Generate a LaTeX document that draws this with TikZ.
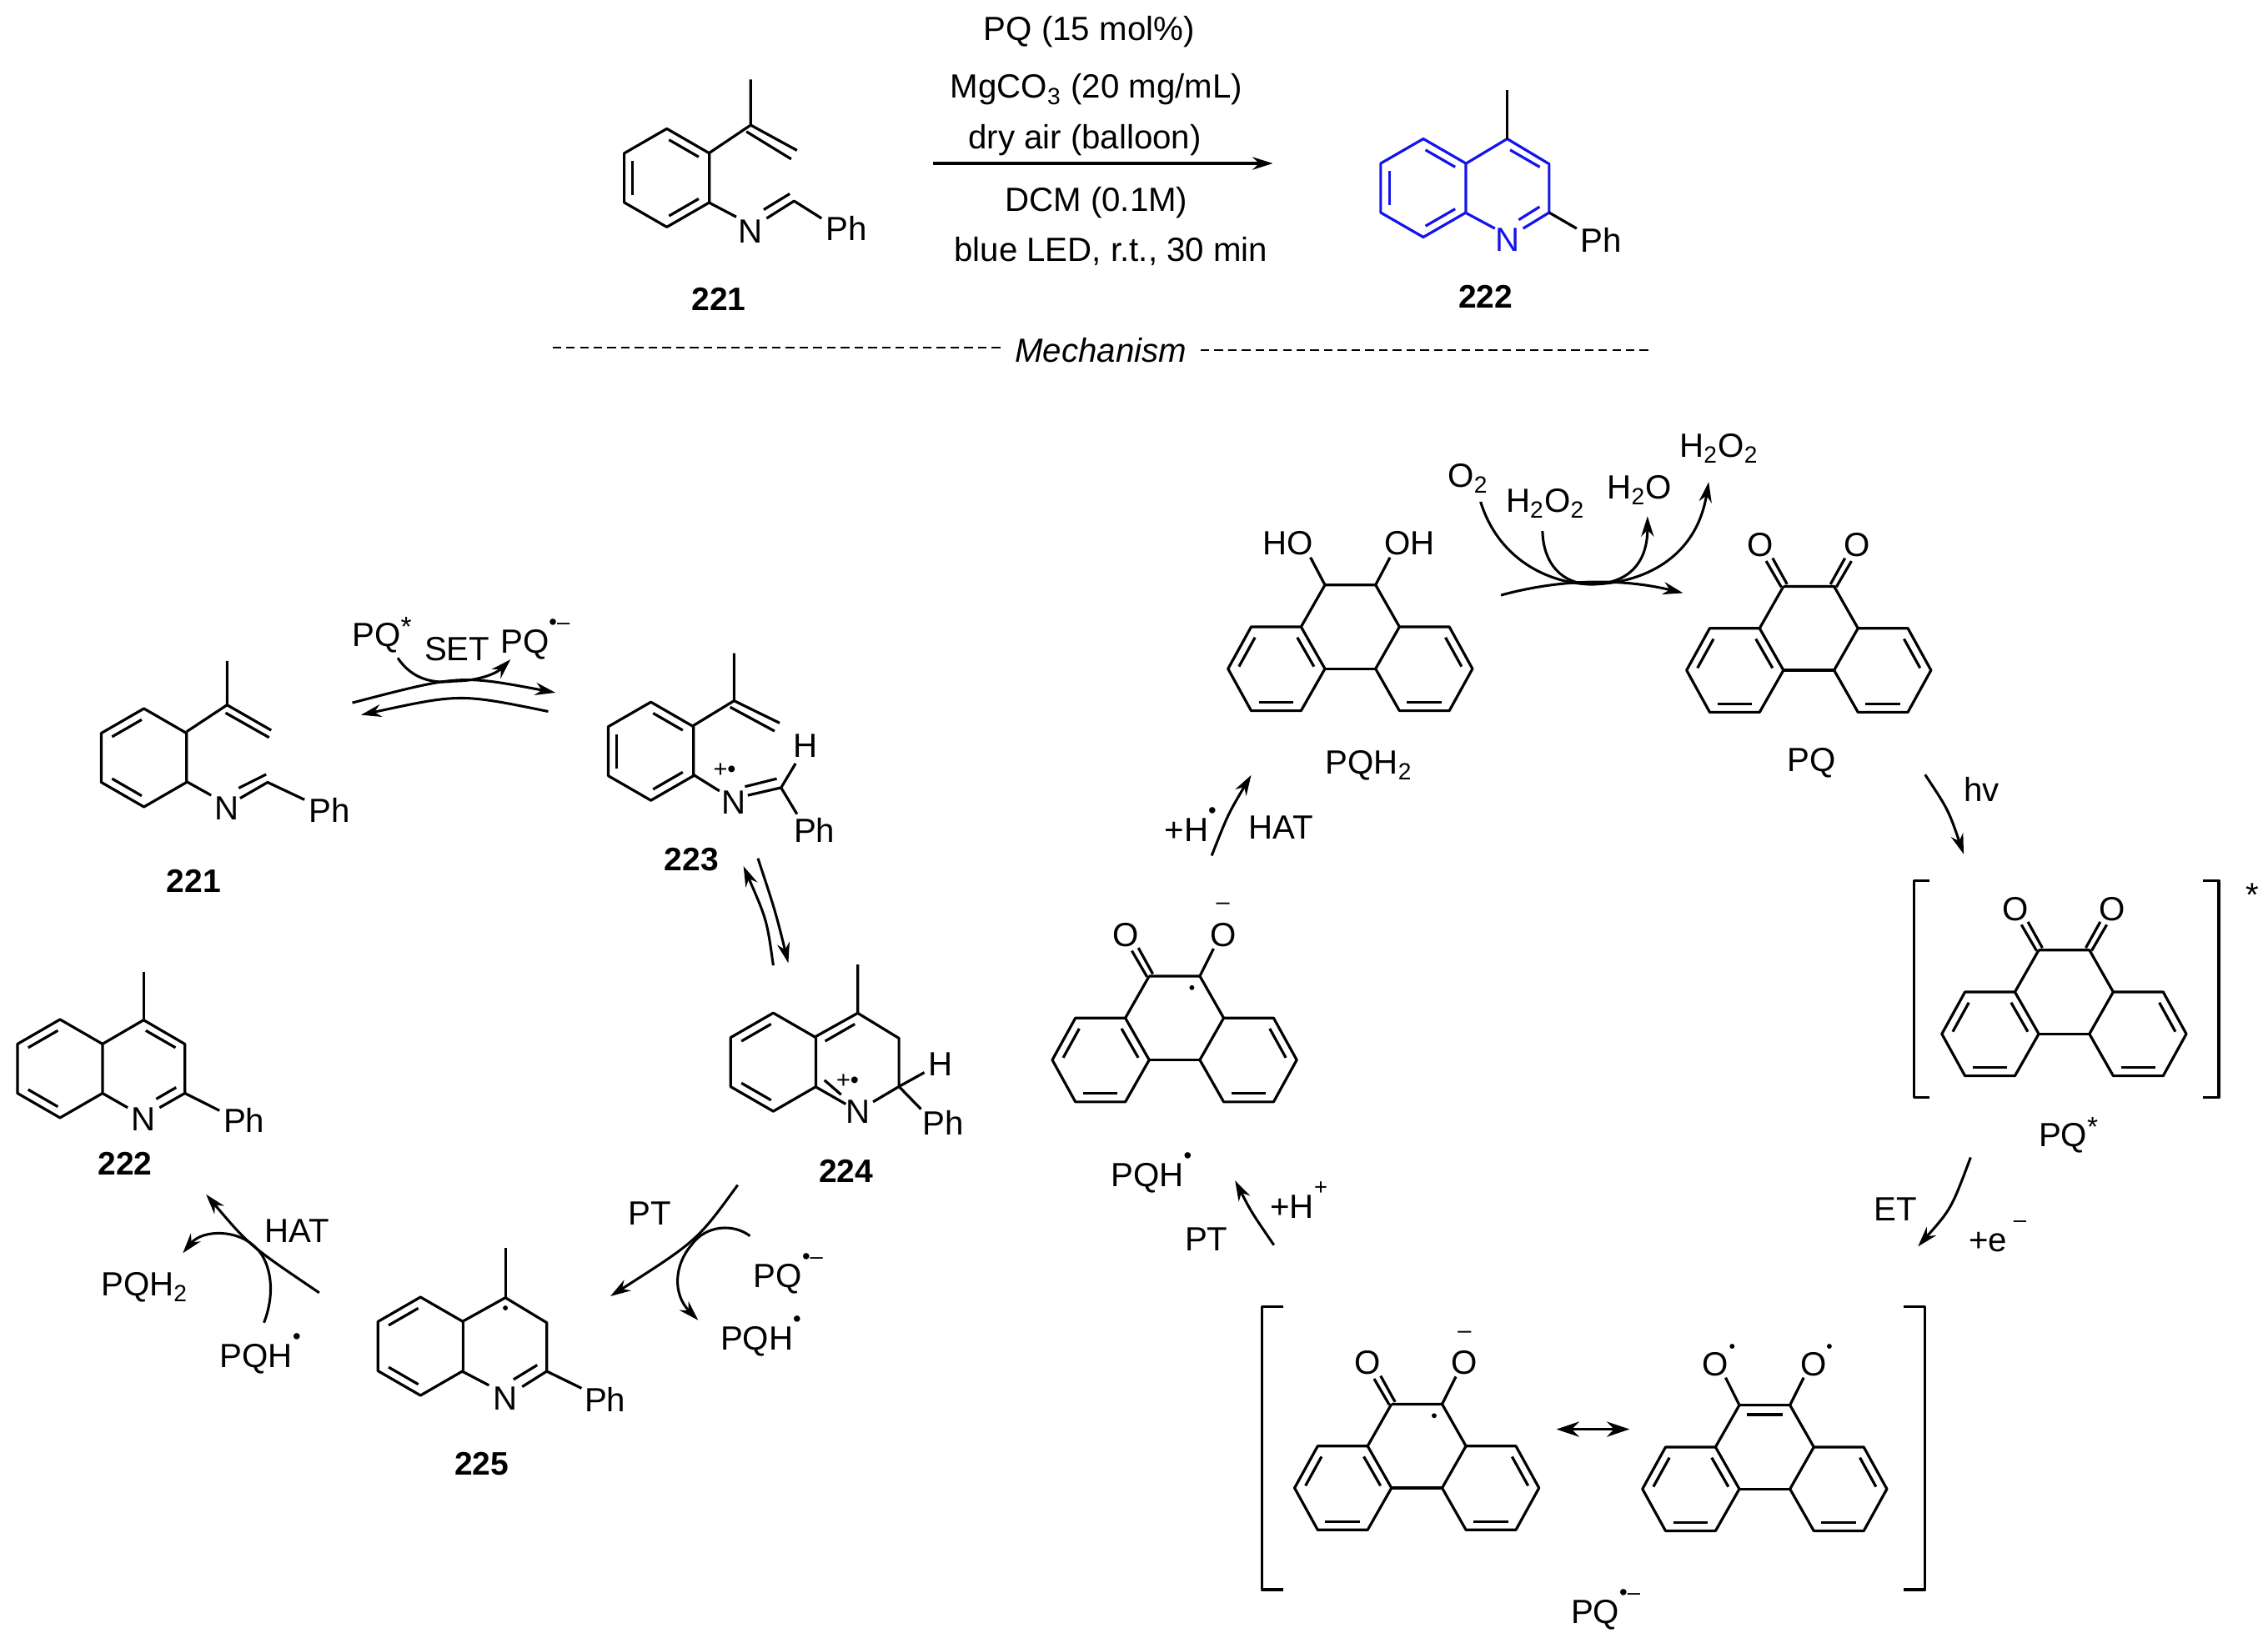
\documentclass[tikz,border=0pt]{standalone}
\usepackage{fontspec}
\setmainfont{Liberation Sans}
\usepackage{tikz}
\usetikzlibrary{calc,arrows.meta}
\definecolor{quinblue}{RGB}{20,20,235}

\tikzset{
  bond/.style={line width=1.05pt, line join=round},
  innerb/.style={bond, shorten >=1pt, shorten <=1pt},
  rxn/.style={line width=1pt, -{Stealth[length=8pt,width=5pt]}},
  every node/.style={inner sep=0pt, font=\fontsize{13.2}{15}\selectfont},
  comp/.style={font=\fontsize{12.8}{15}\selectfont\bfseries},
  small/.style={font=\fontsize{9.5}{10}\selectfont},
}

% raised radical dot or charge
\newcommand{\upmark}[1]{\raisebox{.7em}{\fontsize{9}{9}\selectfont #1}}
% raised star
\newcommand{\upstar}{\raisebox{.3em}{\fontsize{11}{11}\selectfont *}}
% inner line of a double bond in a ring
\newcommand{\innerbond}[2]{\draw[innerb] ($(#1)+(#2:27.2)$) -- ($(#1)+(#2+60:27.2)$);}
% six-membered ring, second argument lists its double bonds
\newcommand{\hexring}[2]{
  \draw[bond] ($(#1)+(30:34)$) -- ($(#1)+(90:34)$) -- ($(#1)+(150:34)$) -- ($(#1)+(210:34)$)
    -- ($(#1)+(270:34)$) -- ($(#1)+(330:34)$) -- cycle;
  \foreach \a in {#2} {\innerbond{#1}{\a}}
}
% phenanthrene frame, origin at the middle of its lower inner bond
\newcommand{\pqcore}{
  \draw[bond] (-17.5,-58) -- (17.5,-58) -- (34,-29) -- (68.5,-29) -- (84.5,0) -- (68.5,29) -- (34,29) -- (17.5,0) -- (34,-29);
  \draw[bond] (-17.5,-58) -- (-34,-29) -- (-68.5,-29) -- (-84.5,0) -- (-68.5,29) -- (-34,29) -- (-17.5,0) -- (-34,-29);
  \draw[bond] (-17.5,0) -- (17.5,0);
  \draw[innerb] (-65,-23.2) -- (-77.8,0);
  \draw[innerb] (-37.5,-23.2) -- (-24.2,0);
  \draw[innerb] (-65,23.2) -- (-37.5,23.2);
  \draw[innerb] (65,-23.2) -- (77.8,0);
  \draw[innerb] (37.5,23.2) -- (65,23.2);
}
% C=O on the frame, argument is +1 or -1 for the side
\newcommand{\pqcarbonyl}[1]{
  \draw[bond] ({#1*19},-57.5) -- ({#1*29.5},-75.5);
  \draw[bond] ({#1*15},-59.5) -- ({#1*25},-77.5);
}

\begin{document}
\begin{tikzpicture}[x=0.02cm,y=-0.02cm]
  \useasboundingbox (0,0) rectangle (1568,1136);

  % Conditions
  \node (cond1) at (753,22) {PQ (15 mol\%)};
  \node (cond2) at (758,62) {MgCO\textsubscript{3} (20 mg/mL)};
  \node (cond3) at (750,97) {dry air (balloon)};
  \node (cond4) at (758,140) {DCM (0.1M)};
  \node (cond5) at (768,174) {blue LED, r.t., 30 min};
  \coordinate (mainl) at (645,113);
  \coordinate (mainr) at (880,113);
  \draw[rxn, line width=1.25pt] (mainl) -- (mainr);

  % Substrate 221
  \hexring{461,123}{150,270,30}
  \draw[bond] (490,106) -- (519,86.5) -- (519,55);
  \draw[bond] (519,86.5) -- (551,104);
  \draw[bond] (516,91) -- (547,110);
  \draw[bond] (490,140) -- (509,150);
  \draw[bond] (530,151) -- (549,139) -- (568,151);
  \draw[bond] (528,145) -- (546,134);
  \node (ntop) at (519,160) {N};
  \node (phtop) at (585,158) {Ph};
  \node[comp] (lab221a) at (497,207) {221};

  % Product 222
  \begin{scope}[quinblue]
    \hexring{984,130}{150,270,30}
    \draw[bond] (1013,113.4) -- (1042,96) -- (1071,113.4) -- (1071,147) -- (1053,158);
    \draw[bond] (1013,147) -- (1033.5,158);
    \innerbond{1042.5,130}{270}
    \draw[bond] (1064.4,143) -- (1050,152);
    \node (nprod) at (1042,166) {N};
  \end{scope}
  \draw[bond] (1042,96) -- (1042,62);
  \draw[bond] (1071,147) -- (1090,158);
  \node (phprod) at (1107,166) {Ph};
  \node[comp] (lab222a) at (1027,205) {222};

  % Divider
  \node (mech) at (761,242) {\itshape Mechanism};
  \coordinate (dashla) at (382,240.5);
  \coordinate (dashlb) at (693,240.5);
  \coordinate (dashra) at (830,242);
  \coordinate (dashrb) at (1140,242);
  \draw[line width=0.7pt, dash pattern=on 3.4pt off 2pt] (dashla) -- (dashlb);
  \draw[line width=0.7pt, dash pattern=on 3.4pt off 2pt] (dashra) -- (dashrb);

  % 221 in the cycle
  \hexring{99.5,524}{210,90}
  \draw[bond] (129,506) -- (157,487.5) -- (157,457);
  \draw[bond] (157,487.5) -- (187.5,505);
  \draw[bond] (156,493) -- (186,510);
  \draw[bond] (129,540.5) -- (146,550);
  \draw[bond] (166,552) -- (185,541) -- (210.5,553);
  \draw[bond] (165,545) -- (184,535.5);
  \node (ncyc) at (157,559) {N};
  \node (phcyc) at (228,560) {Ph};
  \node[comp] (lab221b) at (134,609) {221};

  % 223
  \hexring{450,519.5}{150,270,30}
  \draw[bond] (479,502) -- (507.5,484.6) -- (507.5,451.7);
  \draw[bond] (507.5,484.6) -- (539,500);
  \draw[bond] (504.8,489) -- (535.5,505.6);
  \draw[bond] (479,535.5) -- (497.4,547);
  \draw[bond] (517,550) -- (540,544.7) -- (550,528);
  \draw[bond] (515,544) -- (537,538.5);
  \draw[bond] (540,544.7) -- (551,563);
  \node (n223) at (507.5,555) {N};
  \node[small] (plus223) at (501,533) {+•};
  \node (h223) at (557,516) {H};
  \node (ph223) at (563,574) {Ph};
  \node[comp] (lab223) at (478,594.5) {223};

  % 224
  \hexring{534.6,734.5}{210,90}
  \draw[bond] (563.6,717) -- (593,700.6) -- (593,667);
  \draw[bond] (593,700.6) -- (621.5,718) -- (621.5,751.4) -- (603.6,762);
  \innerbond{592.5,734.5}{210}
  \draw[bond] (563.6,751.4) -- (584.7,763.5);
  \draw[bond] (570,747) -- (581.5,757);
  \draw[bond] (621.5,751.4) -- (639,741.7);
  \draw[bond] (621.5,751.4) -- (636.7,767);
  \node (n224) at (593,769) {N};
  \node[small] (plus224) at (586,748) {+•};
  \node (h224) at (650.5,736) {H};
  \node (ph224) at (652,776.5) {Ph};
  \node[comp] (lab224) at (585,810) {224};

  % 222 in the cycle
  \hexring{41.5,739}{210,90}
  \draw[bond] (70.8,722) -- (99.3,705.4) -- (127.8,722) -- (127.8,756) -- (110.3,766);
  \draw[bond] (99.3,705.4) -- (99.3,672);
  \innerbond{99.3,739}{270}
  \draw[bond] (70.8,756) -- (88.3,766);
  \draw[bond] (121.8,752) -- (108,760);
  \draw[bond] (127.8,756) -- (151.7,768);
  \node (n222) at (99.3,774) {N};
  \node (ph222) at (168.7,775) {Ph};
  \node[comp] (lab222b) at (86.4,804.5) {222};

  % 225
  \hexring{290.7,931}{210,90}
  \draw[bond] (319.5,914) -- (349.4,897.4) -- (378,914.7) -- (378,948.3) -- (361,959);
  \draw[bond] (349.4,897.4) -- (349.4,863);
  \draw[bond] (319.5,948.3) -- (338,958);
  \draw[bond] (371.4,944) -- (355,954);
  \draw[bond] (378,948.3) -- (402,960);
  \fill (349.4,904.5) circle[radius=1.7];
  \node (n225) at (349.4,967) {N};
  \node (ph225) at (418.3,968) {Ph};
  \node[comp] (lab225) at (333,1012.5) {225};

  % SET step
  \coordinate (setfa) at (243.6,486);
  \coordinate (setfb) at (384,479);
  \coordinate (setba) at (379,492);
  \coordinate (setbb) at (249.6,494.4);
  \coordinate (setsa) at (275,455);
  \coordinate (setsb) at (353,456);
  \draw[rxn] (setfa) .. controls (318,466.6) .. (setfb);
  \draw[rxn] (setba) .. controls (318,479.6) .. (setbb);
  \draw[rxn] (setsa) .. controls (285,470) and (300,473) .. (314,471) .. controls (330,471) and (343,466) .. (setsb);
  \node (pqstarset) at (264,439) {PQ\upstar};
  \node (settxt) at (316,449) {SET};
  \node (pqradset) at (370,442) {PQ\upmark{•–}};

  % 223 to 224
  \coordinate (equa) at (534.6,667.6);
  \coordinate (equb) at (514,599);
  \coordinate (eqda) at (524,593.6);
  \coordinate (eqdb) at (545,666);
  \draw[rxn] (equa) .. controls (530.2,636.2) .. (equb);
  \draw[rxn] (eqda) .. controls (536,630) .. (eqdb);

  % 224 to 225
  \coordinate (pta) at (510,819.5);
  \coordinate (ptb) at (422,896.4);
  \coordinate (ptsa) at (518.5,854.7);
  \coordinate (ptsb) at (482.7,913);
  \draw[rxn] (pta) .. controls (482,858) .. (ptb);
  \draw[rxn] (ptsa) .. controls (507,846) and (488,847) .. (478,861) .. controls (466,875) and (465,895) .. (ptsb);
  \node (pttxt) at (449,839) {PT};
  \node (pqradpt) at (545,881) {PQ\upmark{•–}};
  \node (pqhpt) at (526,924) {PQH\upmark{•}};

  % 225 to 222
  \coordinate (hata) at (220.7,894);
  \coordinate (hatb) at (142.5,826);
  \coordinate (hatsa) at (182.5,914.7);
  \coordinate (hatsb) at (126.4,866.6);
  \draw[rxn] (hata) .. controls (172.4,861.3) .. (hatb);
  \draw[rxn] (hatsa) .. controls (192,890) and (185,870) .. (177,863) .. controls (165,850) and (140,850) .. (hatsb);
  \node (hattxt) at (205.5,851.5) {HAT};
  \node (pqhtwohat) at (100,890) {PQH\textsubscript{2}};
  \node (pqhhat) at (180,936) {PQH\upmark{•}};

  % PQH2
  \begin{scope}[shift={(933.5,462.5)}]
    \pqcore
    \draw[bond] (-17.5,-58) -- (-27.5,-77);
    \draw[bond] (17.5,-58) -- (27.5,-77);
    \node (hoa) at (-43,-87) {HO};
    \node (ohb) at (41,-87) {OH};
    \node (pqhtwo) at (13,67) {PQH\textsubscript{2}};
  \end{scope}

  % PQ
  \begin{scope}[shift={(1250.5,463.5)}]
    \pqcore
    \pqcarbonyl{-1}
    \pqcarbonyl{1}
    \node (oa) at (-33.5,-86.5) {O};
    \node (ob) at (33.5,-86.5) {O};
    \node (pqlab) at (2,64) {PQ};
  \end{scope}

  % PQ*
  \begin{scope}[shift={(1427,715)}]
    \pqcore
    \pqcarbonyl{-1}
    \pqcarbonyl{1}
    \node (oc) at (-33.5,-86.5) {O};
    \node (od) at (33.5,-86.5) {O};
  \end{scope}
  \draw[bond] (1334,609) -- (1323.3,609) -- (1323.3,759) -- (1334,759);
  \draw[bond] (1522.8,609) -- (1534,609) -- (1534,759) -- (1522.8,759);
  \node (starb) at (1557,619) {*};
  \node (pqstar) at (1430,785) {PQ\upstar};

  % PQH radical
  \begin{scope}[shift={(812,733)}]
    \pqcore
    \pqcarbonyl{-1}
    \draw[bond] (17.5,-58) -- (27,-77);
    \fill (12,-50) circle[radius=1.7];
    \node (oe) at (-33.5,-86.5) {O};
    \node (of) at (33.5,-86.5) {O};
    \node[small] (minusa) at (33.5,-106) {–};
  \end{scope}
  \node (pqhrad) at (796,811) {PQH\upmark{•}};

  % PQ radical anion, left form
  \begin{scope}[shift={(979.5,1029)}]
    \pqcore
    \pqcarbonyl{-1}
    \draw[bond] (17.5,-58) -- (27,-77);
    \fill (12,-50) circle[radius=1.7];
    \node (og) at (-34.3,-86.5) {O};
    \node (oh) at (33,-86.5) {O};
    \node[small] (minusb) at (33,-106) {–};
  \end{scope}

  % PQ radical anion, right form
  \begin{scope}[shift={(1220,1029.7)}]
    \pqcore
    \draw[bond] (-17.5,-58) -- (-27,-77);
    \draw[bond] (17.5,-58) -- (27,-77);
    \draw[innerb] (-14,-51.5) -- (14,-51.5);
    \node (oi) at (-34,-86.5) {O};
    \node (oj) at (33.7,-86.5) {O};
    \fill (-22.5,-98.7) circle[radius=1.7];
    \fill (44.7,-98.7) circle[radius=1.7];
  \end{scope}

  \coordinate (resl) at (1076,988.4);
  \coordinate (resr) at (1126.6,988.4);
  \draw[line width=1pt, {Stealth[length=9pt,width=6pt]}-{Stealth[length=9pt,width=6pt]}] (resl) -- (resr);
  \draw[bond] (887.3,903.8) -- (872.4,903.8) -- (872.4,1099.3) -- (887.3,1099.3);
  \draw[bond] (1316,903.8) -- (1330.8,903.8) -- (1330.8,1099.3) -- (1316,1099.3);
  \node (pqrad) at (1110,1113) {PQ\upmark{•–}};

  % Oxygen step
  \coordinate (oxa) at (1037.7,411.6);
  \coordinate (oxb) at (1163.6,410.1);
  \coordinate (otwoa) at (1023.6,347);
  \coordinate (otwob) at (1181.3,333.3);
  \coordinate (ppoa) at (1066.4,367.3);
  \coordinate (ppob) at (1139,357);
  \draw[rxn] (oxa) .. controls (1080,400) and (1122,400) .. (oxb);
  \draw[rxn] (otwoa) .. controls (1037,390) and (1075,404) .. (1100,404) .. controls (1130,404) and (1172,390) .. (otwob);
  \draw[rxn] (ppoa) .. controls (1067,390) and (1080,404) .. (1100,404) .. controls (1125,404) and (1139,390) .. (ppob);
  \node (otwo) at (1015,331) {O\textsubscript{2}};
  \node (hhooa) at (1068.5,348) {H\textsubscript{2}O\textsubscript{2}};
  \node (hho) at (1133.5,339) {H\textsubscript{2}O};
  \node (hhoob) at (1188.5,310) {H\textsubscript{2}O\textsubscript{2}};

  % Remaining steps
  \coordinate (hva) at (1330.9,535.7);
  \coordinate (hvb) at (1357.6,590.7);
  \coordinate (eta) at (1362.4,800.4);
  \coordinate (etb) at (1326,862);
  \coordinate (ptra) at (880.7,861);
  \coordinate (ptrb) at (853.9,816.4);
  \coordinate (hatra) at (837.7,591.7);
  \coordinate (hatrb) at (865,536);
  \draw[rxn] (hva) .. controls (1347,560) .. (hvb);
  \draw[rxn] (eta) .. controls (1349,836) .. (etb);
  \draw[rxn] (ptra) .. controls (865,838) .. (ptrb);
  \draw[rxn] (hatra) .. controls (849,563) .. (hatrb);
  \node (hvtxt) at (1370,546) {hv};
  \node (ettxt) at (1310.4,836) {ET};
  \node (etxt) at (1381,855) {+e\upmark{ –}};
  \node (pttxtr) at (834,857) {PT};
  \node (hplus) at (898,830) {+H\upmark{+}};
  \node (hrad) at (823,570) {+H\upmark{•}};
  \node (hattxtr) at (885.6,572) {HAT};
\end{tikzpicture}
\end{document}
